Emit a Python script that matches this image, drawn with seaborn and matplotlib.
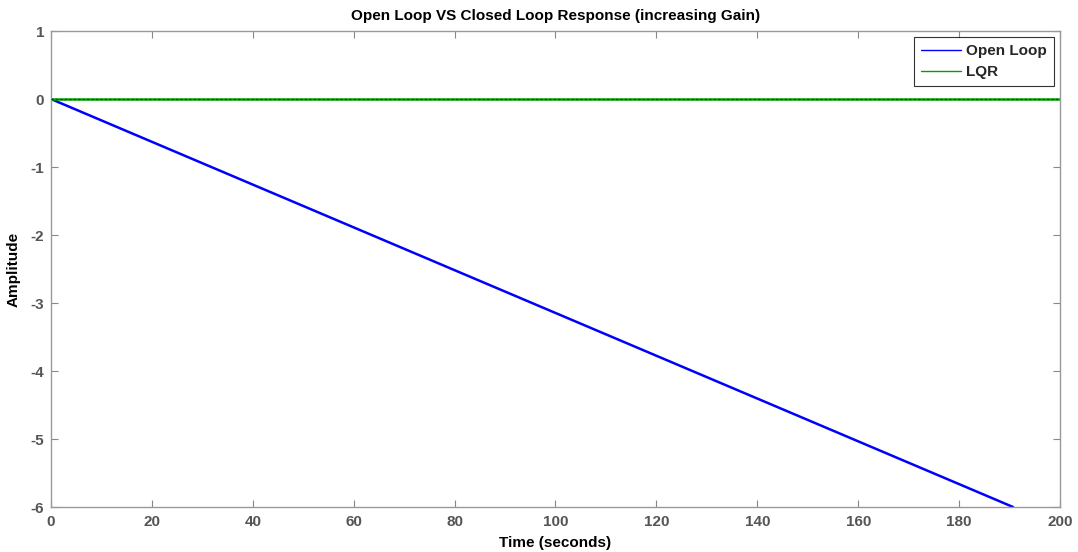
import matplotlib
matplotlib.use("Agg")
import matplotlib.pyplot as plt
import seaborn as sns
import pandas as pd

# Data
open_time = [0, 190.7]
open_amp = [0, -6]
lqr_time = [0, 200]
lqr_amp = [0, 0]
x_ticks = [0, 20, 40, 60, 80, 100, 120, 140, 160, 180, 200]
y_ticks = [1, 0, -1, -2, -3, -4, -5, -6]

sns.set_theme(style="white")
plt.rcParams['font.family'] = ['Liberation Sans', 'DejaVu Sans']
plt.rcParams['font.weight'] = 'bold'
plt.rcParams['axes.unicode_minus'] = False

df = pd.concat([
    pd.DataFrame({"Time": open_time, "Amplitude": open_amp, "Series": "Open Loop"}),
    pd.DataFrame({"Time": lqr_time, "Amplitude": lqr_amp, "Series": "LQR"}),
])

fig = plt.figure(figsize=(10.78, 5.52), dpi=100)
ax = fig.add_axes([0.0473, 0.0815, 0.936, 0.8623])

sns.lineplot(data=df, x="Time", y="Amplitude", hue="Series",
             palette={"Open Loop": "#0000ff", "LQR": "#00a000"},
             ax=ax, linewidth=1.8, sort=False, estimator=None)
# dark dashed overlay on the zero line
ax.plot(lqr_time, lqr_amp, color="#104010", linestyle=(0, (2, 2)), linewidth=0.8, zorder=3)

ax.set_xlim(0, 200)
ax.set_ylim(-6, 1)
ax.set_xticks(x_ticks)
ax.set_yticks(y_ticks)
ax.tick_params(direction="in", length=5, width=0.8, color="#888888",
               labelcolor="#555555", labelsize=11, top=True, right=True,
               bottom=True, left=True)
ax.tick_params(axis="x", pad=6)
ax.tick_params(axis="y", pad=5)
for lbl in ax.get_xticklabels() + ax.get_yticklabels():
    lbl.set_fontweight("bold")
for sp in ax.spines.values():
    sp.set_color("#999999")
    sp.set_linewidth(1.0)

ax.set_xlabel("Time (seconds)", fontsize=11, fontweight="bold", color="black", labelpad=5)
ax.set_ylabel("Amplitude", fontsize=11, fontweight="bold", color="black", labelpad=7)
ax.set_title("Open Loop VS Closed Loop Response (increasing Gain)", fontsize=11,
             fontweight="bold", color="black", pad=8)

handles, labels = ax.get_legend_handles_labels()
for h in handles:
    h.set_linewidth(1.0)
leg = ax.legend(handles, labels, loc="upper right", frameon=True, fancybox=False,
                edgecolor="black", fontsize=11, handlelength=2.6, borderpad=0.45,
                labelspacing=0.45, handletextpad=0.35, borderaxespad=0.4)
leg.get_frame().set_linewidth(0.8)
for t in leg.get_texts():
    t.set_fontweight("bold")

fig.savefig("out.png", dpi=100)
